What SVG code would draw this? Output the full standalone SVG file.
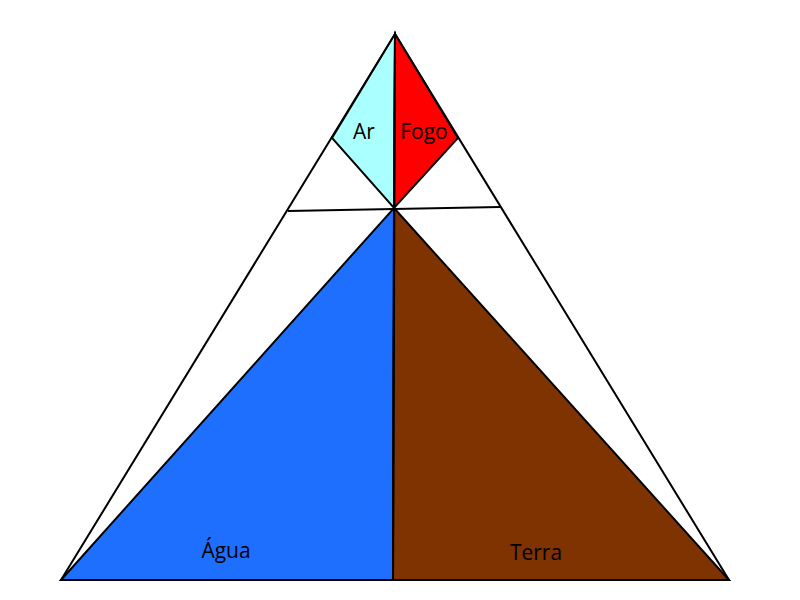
<svg xmlns="http://www.w3.org/2000/svg" width="800" height="600" viewBox="0 0 800 600">
<style>
.s{stroke:#000;stroke-width:2;stroke-linejoin:miter}
.t{font-family:"Open Sans","Liberation Sans",sans-serif;font-size:21px;fill:#000;text-anchor:middle}
</style>
<rect width="800" height="600" fill="#fff"/>
<g id="outer"><polygon class="s" points="395,34 61,580 729,580" fill="#fff"/></g>
<g id="agua"><polygon class="s" points="61,580 394,208 393,580" fill="#1F6FFF"/><text class="t" x="226" y="558">Água</text></g>
<g id="terra"><polygon class="s" points="394,208 729,580 393,580" fill="#7F3300"/><text class="t" x="536" y="560">Terra</text></g>
<g id="ar"><polygon class="s" points="395,34 332,138 394,208" fill="#AAFFFF"/><text class="t" x="364" y="139">Ar</text></g>
<g id="fogo"><polygon class="s" points="395,34 458,138 394,208" fill="#FF0000"/><text class="t" x="424" y="139">Fogo</text></g>
<g id="connectors" class="s" fill="none">
<line x1="288" y1="211" x2="500" y2="207"/>
<line x1="395" y1="34" x2="393" y2="580"/>
</g>
</svg>
